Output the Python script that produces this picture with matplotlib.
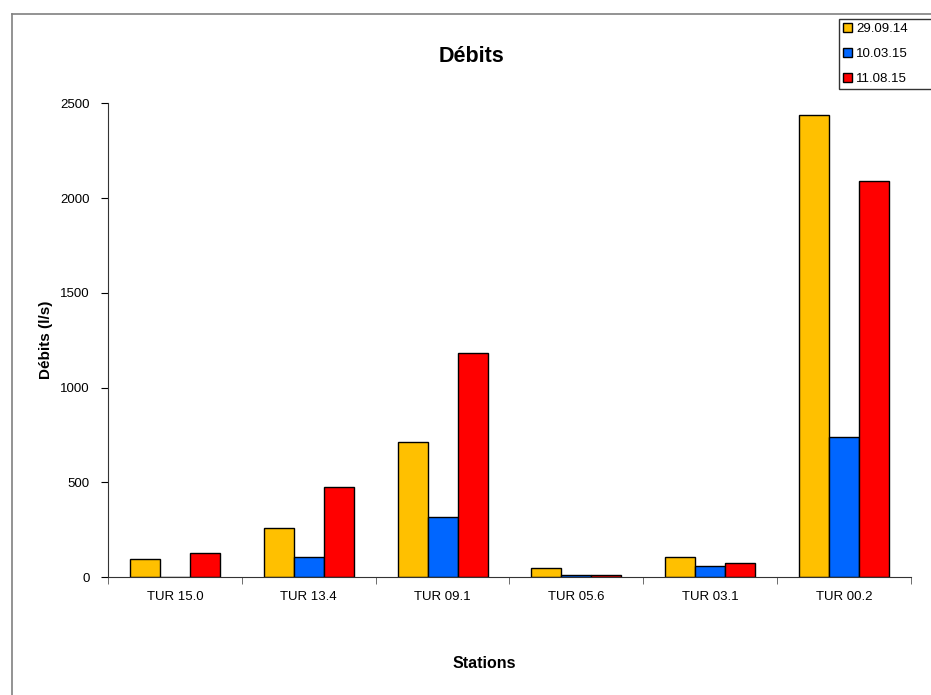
import matplotlib.pyplot as plt
import numpy as np
from matplotlib.lines import Line2D

plt.rcParams['font.family'] = ['Liberation Sans', 'DejaVu Sans']

# Débits mesurés par station (l/s)
stations = ['TUR 15.0', 'TUR 13.4', 'TUR 09.1', 'TUR 05.6', 'TUR 03.1', 'TUR 00.2']
dates = ['29.09.14', '10.03.15', '11.08.15']
q_290914 = [93, 257, 714, 46, 104, 2439]
q_100315 = [0, 107, 318, 12, 60, 741]
q_110815 = [125, 474, 1181, 12, 74, 2091]
colors = ['#FFC000', '#0066FF', '#FF0000']

fig = plt.figure(figsize=(9.31, 6.95), dpi=100)
W, H = 931, 695

# cadre du graphique
fig.add_artist(Line2D([12 / W, 12 / W], [0, 1 - 14 / H], color='#808080', lw=1.2))
fig.add_artist(Line2D([12 / W, 1], [1 - 14 / H, 1 - 14 / H], color='#808080', lw=1.2))

ax = fig.add_axes([108 / W, 118 / H, 803 / W, 473.5 / H])

x = np.arange(len(stations))
width = 0.224
series = [q_290914, q_100315, q_110815]
for i, (vals, c, d) in enumerate(zip(series, colors, dates)):
    ax.bar(x + (i - 1) * width, vals, width, color=c, edgecolor='black',
           linewidth=1.0, label=d)

ax.set_xlim(-0.5, len(stations) - 0.5)
ax.set_ylim(0, 2500)
ax.set_yticks([0, 500, 1000, 1500, 2000, 2500])
ax.set_xticks(x)
ax.set_xticklabels(stations)
ax.set_xticks(np.arange(-0.5, len(stations), 1), minor=True)
ax.tick_params(axis='x', which='major', length=0, pad=10, labelsize=9.5)
ax.tick_params(axis='x', which='minor', length=5, direction='out', color='#555555')
ax.tick_params(axis='y', length=5, direction='out', labelsize=9.5, pad=8)

for s in ['top', 'right']:
    ax.spines[s].set_visible(False)
ax.spines['left'].set_color('#333333')
ax.spines['bottom'].set_color('#333333')

fig.text(46 / W, 1 - 340 / H, 'Débits (l/s)', fontsize=11, fontweight='bold',
         rotation=90, ha='center', va='center')
fig.text(484 / W, 1 - 664 / H, 'Stations', fontsize=11.5, fontweight='bold',
         ha='center', va='center')
fig.text(472 / W, 1 - 56 / H, 'Débits', fontsize=15.5, fontweight='bold',
         ha='center', va='center')

leg = fig.legend(loc='upper left', bbox_to_anchor=(839 / W, 1 - 20 / H, 130 / W, 0.001),
                 mode='expand', fontsize=9.5, frameon=True, fancybox=False,
                 handlelength=0.7, handleheight=0.7, handletextpad=0.3,
                 borderpad=0.3, labelspacing=0.95, borderaxespad=0)
leg.get_frame().set_edgecolor('black')
leg.get_frame().set_linewidth(1.0)

fig.savefig('out.png', dpi=100)
